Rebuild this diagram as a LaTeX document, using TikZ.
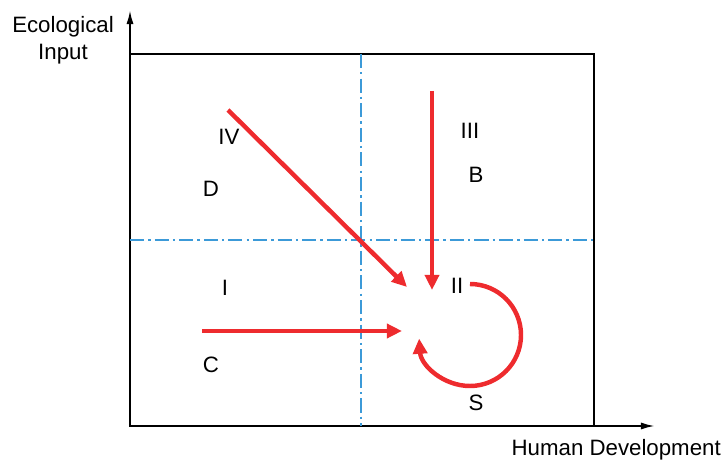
\documentclass[tikz,border=0pt]{standalone}
\usepackage{fontspec}
\setmainfont{Liberation Sans}
\usepackage{xcolor}
\usepackage{tikz}
\usetikzlibrary{arrows.meta}
\definecolor{flowred}{HTML}{EE2B2E}
\definecolor{splitblue}{HTML}{3C9AD8}

\begin{document}
\begin{tikzpicture}[x=0.03cm, y=-0.03cm,
      axis/.style={-{Latex[length=12pt, width=6pt]}, line width=1.7pt},
      frame/.style={line width=1.7pt},
      split/.style={color=splitblue, line width=1.8pt,
                    dash pattern=on 12pt off 3.5pt on 2pt off 3.5pt},
      flow/.style={-{Triangle[length=13pt, width=12pt]}, line width=3.8pt, color=flowred},
      lab/.style={font=\fontsize{19}{23}\selectfont, inner sep=0pt, align=center}
  ]
    \useasboundingbox (0,0) rectangle (723,460);
    % axes and frame
    \coordinate (o) at (130,426);
    \coordinate (ytip) at (130,10);
    \coordinate (xtip) at (655,426);
    \coordinate (ne) at (594,54);
    \draw[frame] (o) rectangle (ne);
    \draw[axis] (o) -- (ytip);
    \draw[axis] (o) -- (xtip);
    \node[lab] (ylab) at (63,40) {Ecological\\Input};
    \node[lab, anchor=east] (xlab) at (721,450) {Human Development};
    % quadrant split
    \coordinate (vtop) at (361,54);  \coordinate (vbot) at (361,426);
    \coordinate (hleft) at (130,240); \coordinate (hright) at (594,240);
    \draw[split] (vtop) -- (vbot);
    \draw[split] (hleft) -- (hright);
    % quadrant labels
    \node[lab] (iv) at (229,137) {IV};
    \node[lab] (d) at (211,189) {D};
    \node[lab] (iii) at (470,131) {III};
    \node[lab] (b) at (476,175) {B};
    \node[lab] (i) at (225,288) {I};
    \node[lab] (ii) at (457,286) {II};
    \node[lab] (c) at (211,365) {C};
    \node[lab] (s) at (476,403) {S};
    % trajectories
    \coordinate (dstart) at (228,110); \coordinate (dend) at (407,287);
    \coordinate (bstart) at (432,91);  \coordinate (bend) at (432,290);
    \coordinate (cstart) at (202,331); \coordinate (cend) at (402,331);
    \coordinate (sstart) at (470,284);
    \draw[flow] (dstart) -- (dend);
    \draw[flow] (bstart) -- (bend);
    \draw[flow] (cstart) -- (cend);
    \draw[flow] (sstart) arc[start angle=-90, end angle=176, radius=51];
  \end{tikzpicture}
\end{document}
